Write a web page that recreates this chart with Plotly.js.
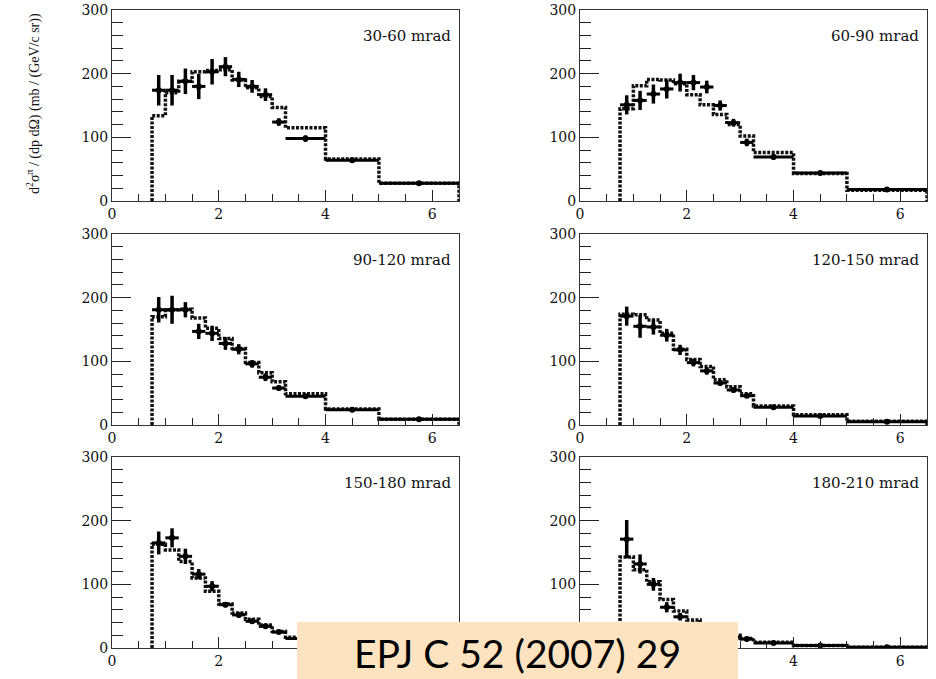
<!DOCTYPE html>
<html>
<head>
<meta charset="utf-8">
<script src="https://cdn.plot.ly/plotly-3.0.1.min.js"></script>
<style>html,body{margin:0;padding:0;background:#fff;}#chart{width:936px;height:679px;}</style>
</head>
<body>
<div id="chart"></div>
<script>
// momentum bin edges (GeV/c)
const edges = [0.75, 1.0, 1.25, 1.5, 1.75, 2.0, 2.25, 2.5, 2.75, 3.0, 3.25, 4.0, 5.0, 6.5];
const panelLabels = ['30-60 mrad', '60-90 mrad', '90-120 mrad', '120-150 mrad', '150-180 mrad', '180-210 mrad'];
// tick labels visible in each panel (the rest sit under the reference box)
const xTickLabels = [[0, 2, 4, 6], [0, 2, 4, 6], [0, 2, 4, 6], [0, 2, 4, 6], [0, 2], [4, 6]];
const yTickLabels = [[0, 100, 200, 300], [0, 100, 200, 300], [0, 100, 200, 300],
                     [0, 100, 200, 300], [0, 100, 200, 300], [100, 200, 300]];

// measured cross-sections (data points) and errors
const data30  = [174, 174, 188, 180, 203, 211, 191, 180, 167, 124, 98, 64, 28];
const err30   = [24, 24, 20, 20, 20, 15, 12, 10, 10, 6, 5, 4, 3];
const data60  = [151, 158, 168, 176, 186, 186, 179, 150, 123, 92, 69, 44, 18];
const err60   = [15, 15, 15, 15, 14, 12, 10, 8, 6, 6, 4, 3, 2];
const data90  = [181, 181, 181, 147, 144, 128, 119, 96, 75, 58, 45, 24, 9];
const err90   = [20, 22, 12, 12, 12, 10, 8, 6, 6, 4, 3, 2, 1];
const data120 = [171, 155, 154, 141, 118, 98, 85, 66, 55, 46, 28, 14, 5];
const err120  = [15, 18, 12, 10, 8, 6, 6, 4, 4, 3, 2, 1, 1];
const data150 = [165, 173, 144, 116, 97, 68, 52, 42, 34, 25, 15, 6, 2];
const err150  = [18, 15, 12, 8, 8, 4, 4, 3, 3, 2, 2, 1, 1];
const data180 = [171, 132, 100, 64, 49, 37, 28, 22, 17, 14, 8, 4, 1];
const err180  = [30, 15, 10, 8, 6, 4, 3, 3, 2, 2, 1, 1, 1];

// model prediction (dashed histogram)
const mc30  = [134, 170, 188, 203, 205, 206, 190, 178, 164, 147, 115, 66, 28];
const mc60  = [145, 181, 191, 190, 184, 167, 151, 136, 120, 102, 76, 43, 17];
const mc90  = [170, 181, 182, 168, 152, 136, 120, 98, 82, 68, 49, 25, 9];
const mc120 = [174, 173, 165, 144, 119, 103, 92, 71, 60, 49, 30, 16, 6];
const mc150 = [163, 154, 136, 110, 89, 69, 55, 45, 36, 26, 17, 6, 2];
const mc180 = [143, 123, 104, 76, 58, 44, 34, 26, 20, 15, 9, 4, 1];

const allData = [data30, data60, data90, data120, data150, data180];
const allErr  = [err30, err60, err90, err120, err150, err180];
const allMC   = [mc30, mc60, mc90, mc120, mc150, mc180];

const centers = edges.slice(0, -1).map((e, i) => (e + edges[i + 1]) / 2);
const halfW   = edges.slice(0, -1).map((e, i) => (edges[i + 1] - e) / 2);

const W = 936, H = 679;
const colX = [[112, 459], [580, 927]];
const rowY = [[10, 201], [234, 425], [457, 648]];

const traces = [];
const layout = {
  width: W, height: H,
  margin: {l: 0, r: 0, t: 0, b: 0},
  paper_bgcolor: '#fff', plot_bgcolor: '#fff',
  showlegend: false,
  annotations: [], shapes: []
};

for (let p = 0; p < 6; p++) {
  const n = p + 1;
  const xa = n === 1 ? 'x' : 'x' + n;
  const ya = n === 1 ? 'y' : 'y' + n;
  const col = p % 2, row = Math.floor(p / 2);
  // histogram step line
  const hx = [edges[0]], hy = [0];
  allMC[p].forEach((v, i) => { hx.push(edges[i]); hy.push(v); });
  hx.push(edges[edges.length - 1]); hy.push(allMC[p][allMC[p].length - 1]);
  hx.push(edges[edges.length - 1]); hy.push(0);
  traces.push({
    x: hx, y: hy, xaxis: xa, yaxis: ya, type: 'scatter', mode: 'lines',
    line: {shape: 'hv', color: '#111', width: 3.5, dash: '3px,1.5px'},
    hoverinfo: 'skip'
  });
  traces.push({
    x: centers, y: allData[p], xaxis: xa, yaxis: ya, type: 'scatter', mode: 'markers',
    marker: {color: '#000', size: 6, symbol: 'circle'},
    error_x: {type: 'data', array: halfW, color: '#000', thickness: 3, width: 0},
    error_y: {type: 'data', array: allErr[p], color: '#000', thickness: 3.5, width: 0}
  });
  const xk = n === 1 ? 'xaxis' : 'xaxis' + n;
  const yk = n === 1 ? 'yaxis' : 'yaxis' + n;
  layout[xk] = {
    domain: [colX[col][0] / W, colX[col][1] / W],
    anchor: ya, range: [0, 6.5],
    tickvals: xTickLabels[p], ticktext: xTickLabels[p].map(String),
    ticks: 'inside', ticklen: 11, tickwidth: 1, tickcolor: '#222',
    minor: {dtick: 0.5, tick0: 0, ticks: 'inside', ticklen: 7, tickwidth: 1, tickcolor: '#222', showgrid: false},
    showline: true, linecolor: '#333', linewidth: 1, mirror: true,
    showgrid: false, zeroline: false,
    tickfont: {family: 'DejaVu Serif', size: 14, color: '#111'}
  };
  layout[yk] = {
    domain: [1 - rowY[row][1] / H, 1 - rowY[row][0] / H],
    anchor: xa, range: [0, 300],
    tickvals: yTickLabels[p], ticktext: yTickLabels[p].map(String),
    ticks: 'inside', ticklen: 19, tickwidth: 1, tickcolor: '#222',
    minor: {dtick: 20, tick0: 0, ticks: 'inside', ticklen: 11, tickwidth: 1, tickcolor: '#222', showgrid: false},
    showline: true, linecolor: '#333', linewidth: 1, mirror: true,
    showgrid: false, zeroline: false,
    tickfont: {family: 'DejaVu Serif', size: 14, color: '#111'}
  };
  layout.annotations.push({
    xref: xa + ' domain', yref: ya + ' domain', x: 0.982, y: 0.862,
    xanchor: 'right', yanchor: 'middle', showarrow: false,
    text: panelLabels[p],
    font: {family: 'DejaVu Serif', size: 15, color: '#111'}
  });
}

// y-axis title
layout.annotations.push({
  xref: 'paper', yref: 'paper', x: 33 / W, y: 1 - 104 / H,
  xanchor: 'center', yanchor: 'middle', showarrow: false, textangle: -90,
  text: 'd<sup>2</sup>σ<sup>π</sup> / (dp dΩ) (mb / (GeV/c sr))',
  font: {family: 'Liberation Serif', size: 14, color: '#111'}
});

// reference box
layout.shapes.push({
  type: 'rect', xref: 'paper', yref: 'paper', layer: 'above',
  x0: 297 / W, x1: 738 / W, y0: 0, y1: 1 - 622 / H,
  fillcolor: '#FDE3C0', line: {width: 0}
});
layout.annotations.push({
  xref: 'paper', yref: 'paper', x: 517 / W, y: 1 - 653 / H,
  xanchor: 'center', yanchor: 'middle', showarrow: false,
  text: 'EPJ C 52 (2007) 29',
  font: {family: 'Lato', size: 39, color: '#000'}
});

Plotly.newPlot('chart', traces, layout, {staticPlot: true});
</script>
</body>
</html>
